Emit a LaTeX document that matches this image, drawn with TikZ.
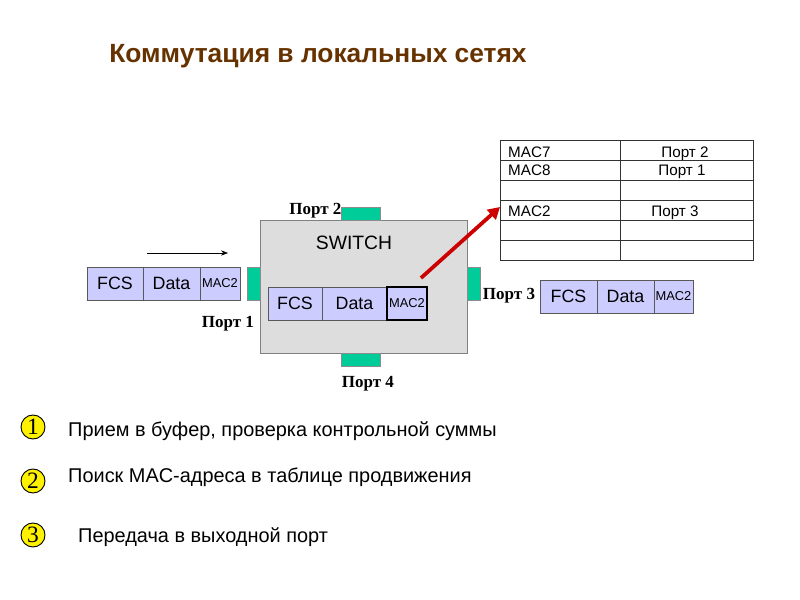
\documentclass[tikz,border=0pt]{standalone}
\usepackage{fontspec}
\setmainfont{Liberation Sans}
\newfontfamily\portserif{Liberation Serif}
\usetikzlibrary{arrows.meta}
\definecolor{titlebrown}{RGB}{102,51,0}
\definecolor{framefill}{RGB}{204,204,255}
\definecolor{portgreen}{RGB}{0,204,153}
\definecolor{switchgray}{RGB}{221,221,221}
\definecolor{arrowred}{RGB}{204,0,0}

\begin{document}
\begin{tikzpicture}[x=0.03cm,y=-0.03cm,>=Stealth,
  field/.style={draw=black!65,fill=framefill,minimum height=0.99cm,inner sep=0,outer sep=0,anchor=west,font=\fontsize{15.2}{15.2}\selectfont},
  macfield/.style={field,font=\fontsize{11}{11}\selectfont},
  port/.style={draw=black!45,fill=portgreen,inner sep=0,outer sep=0},
  portlabel/.style={anchor=base,inner sep=0,font=\portserif\bfseries\fontsize{14.5}{14.5}\selectfont},
  celltext/.style={inner sep=0,font=\fontsize{13}{13}\selectfont},
  numdot/.style={circle,draw=black,line width=0.8pt,fill=yellow,minimum size=0.72cm,inner sep=0,font=\portserif\fontsize{20}{20}\selectfont},
  steptext/.style={anchor=base west,inner sep=0,font=\fontsize{17}{17}\selectfont}]
  \useasboundingbox (0,0) rectangle (800,600);

  % title
  \node[anchor=base,inner sep=0,text=titlebrown,font=\bfseries\fontsize{22.5}{22.5}\selectfont] (title) at (318,63) {Коммутация в локальных сетях};

  % switch and its ports
  \node[draw=gray,fill=switchgray,minimum width=6.21cm,minimum height=3.99cm,inner sep=0] (switch) at (363.5,286.5) {};
  \node[anchor=base,inner sep=0,font=\fontsize{16.5}{16.5}\selectfont] (swname) at (354,250) {SWITCH};
  \node[port,minimum width=1.17cm,minimum height=0.39cm] (p2) at (360.5,213.5) {};
  \node[port,minimum width=0.39cm,minimum height=0.99cm] (p1) at (253.5,283.5) {};
  \node[port,minimum width=0.39cm,minimum height=0.99cm] (p3) at (473.5,283.5) {};
  \node[port,minimum width=1.17cm,minimum height=0.39cm] (p4) at (360.5,359.5) {};
  \node[portlabel] (p2lbl) at (315.5,215) {Порт 2};
  \node[portlabel] (p1lbl) at (228,328) {Порт 1};
  \node[portlabel] (p3lbl) at (509,300) {Порт 3};
  \node[portlabel] (p4lbl) at (368,388) {Порт 4};

  % incoming frame
  \node[field,minimum width=1.68cm] (fcs1) at (87,283.5) {FCS};
  \node[field,minimum width=1.71cm] (data1) at (143,283.5) {Data};
  \node[macfield,minimum width=1.2cm] (mac1) at (200,283.5) {MAC2};
  \coordinate (in1) at (147,253);
  \coordinate (in2) at (228,253);
  \draw[-{Stealth[length=6pt,width=4.5pt]},thin] (in1) -- (in2);

  % frame in buffer
  \node[field,minimum width=1.62cm] (fcsin) at (268,303.5) {FCS};
  \node[field,minimum width=1.95cm] (datain) at (322,303.5) {Data};
  \node[macfield,minimum width=1.2cm,draw=black,line width=1.3pt] (macin) at (387,303.5) {MAC2};

  % outgoing frame
  \node[field,minimum width=1.71cm] (fcs3) at (540,296.5) {FCS};
  \node[field,minimum width=1.71cm] (data3) at (597,296.5) {Data};
  \node[macfield,minimum width=1.17cm] (mac3) at (654,296.5) {MAC2};

  % forwarding table
  \foreach \y in {140,160,...,240}
    \draw[black!80] (500,\y) rectangle (620,\y+20) (620,\y) rectangle (753,\y+20);
  \node[celltext,anchor=base west] (k1) at (508,158) {MAC7};
  \node[celltext,anchor=base] (v1) at (685,158) {Порт 2};
  \node[celltext,anchor=base west] (k2) at (508,176) {MAC8};
  \node[celltext,anchor=base] (v2) at (682,176) {Порт 1};
  \node[celltext,anchor=base west] (k4) at (508,217) {MAC2};
  \node[celltext,anchor=base] (v4) at (675,217) {Порт 3};

  \coordinate (lookup) at (421,278);
  \coordinate (row4) at (500,207);
  \draw[arrowred,line width=3.2pt,-{Triangle[length=10pt,width=11pt]}] (lookup) -- (row4);

  % steps
  \node[numdot] (n1) at (33,427) {1};
  \node[numdot] (n2) at (33,481) {2};
  \node[numdot] (n3) at (33,535) {3};
  \node[steptext] (s1) at (68,437) {Прием в буфер, проверка контрольной суммы};
  \node[steptext] (s2) at (68,483) {Поиск MAC-адреса в таблице продвижения};
  \node[steptext] (s3) at (78,543) {Передача в выходной порт};
\end{tikzpicture}
\end{document}
